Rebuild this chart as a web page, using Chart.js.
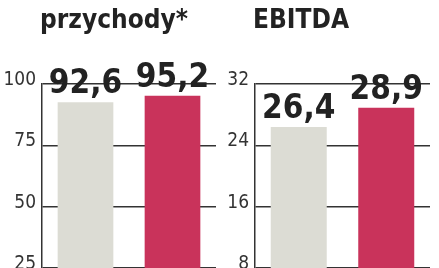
<!DOCTYPE html>
<html><head><meta charset="utf-8">
<script src="https://cdn.jsdelivr.net/npm/chart.js@4/dist/chart.umd.min.js"></script>
<style>
html,body{margin:0;padding:0;background:#fff;overflow:hidden;width:439px;height:268px;}
canvas{position:absolute;top:0;}
</style></head><body>
<canvas id="c1" width="219" height="268" style="left:0;width:219px;height:268px"></canvas>
<canvas id="c2" width="220" height="268" style="left:219px;width:220px;height:268px"></canvas>
<script>
const categories = ['rok poprzedni', 'rok bieżący'];
const revenueTitle = 'przychody*';
const revenueValues = [92.6, 95.2];
const revenueTicks = [25, 50, 75, 100];
const ebitdaTitle = 'EBITDA';
const ebitdaValues = [26.4, 28.9];
const ebitdaTicks = [8, 16, 24, 32];
const barColors = ['#dcdcd4', '#c9335b'];

const FONT = "'DejaVu Sans Condensed', 'Liberation Sans Narrow', 'DejaVu Sans', sans-serif";

const valueLabels = {
  id: 'valueLabels',
  afterDatasetsDraw(chart) {
    const ctx = chart.ctx;
    const meta = chart.getDatasetMeta(0);
    ctx.save();
    ctx.font = 'bold 33px ' + FONT;
    ctx.fillStyle = '#222';
    ctx.textAlign = 'center';
    ctx.textBaseline = 'alphabetic';
    meta.data.forEach((el, i) => {
      const v = chart.data.datasets[0].data[i];
      ctx.fillText(v.toFixed(1).replace('.', ','), el.x, el.y - 9);
    });
    ctx.restore();
  }
};
const panelTitle = {
  id: 'panelTitle',
  afterDraw(chart, args, opts) {
    const ctx = chart.ctx;
    ctx.save();
    ctx.font = 'bold 26px ' + FONT;
    ctx.fillStyle = '#222';
    ctx.textAlign = 'left';
    ctx.textBaseline = 'alphabetic';
    ctx.fillText(opts.text, chart.chartArea.left - 2, 28);
    ctx.restore();
  }
};

function makeChart(id, values, ticks, title, axisWidth, padRight) {
  return new Chart(document.getElementById(id), {
    type: 'bar',
    data: {
      labels: categories,
      datasets: [{ data: values, backgroundColor: barColors, borderWidth: 0, barPercentage: 0.64, categoryPercentage: 1 }]
    },
    options: {
      responsive: false, maintainAspectRatio: false, animation: false, events: [], devicePixelRatio: 1,
      layout: { padding: { top: 84, right: padRight, bottom: 0, left: 0 } },
      plugins: { legend: { display: false }, tooltip: { enabled: false }, panelTitle: { text: title } },
      scales: {
        x: { display: false },
        y: {
          min: ticks[0], max: ticks[ticks.length - 1],
          afterBuildTicks(s) { s.ticks = ticks.map(v => ({ value: v })); },
          afterFit(s) { s.width = axisWidth; s.paddingTop = 0; s.paddingBottom = 0; },
          grid: { color: '#333', lineWidth: 1.5, drawTicks: false },
          border: { display: true, color: '#333', width: 1.5 },
          ticks: { color: '#333', font: { family: FONT, size: 19 }, padding: 6, labelOffset: -4 }
        }
      }
    },
    plugins: [valueLabels, panelTitle]
  });
}
makeChart('c1', revenueValues, revenueTicks, revenueTitle, 42, 3);
makeChart('c2', ebitdaValues, ebitdaTicks, ebitdaTitle, 36, 9);
</script>
</body></html>
